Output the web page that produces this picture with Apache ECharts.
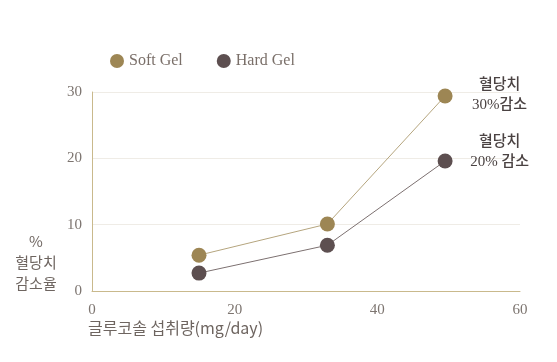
<!DOCTYPE html>
<html><head><meta charset="utf-8">
<script src="https://cdn.jsdelivr.net/npm/echarts@6/dist/echarts.min.js"></script>
<style>html,body{margin:0;padding:0;background:#fff}#c{width:557px;height:362px}</style>
</head><body><div id="c"></div>
<script>
const xValues = [15, 33, 49.5];
const softGel = [5.4, 10.1, 29.4];
const hardGel = [2.7, 6.9, 19.6];
const seriesNames = ['Soft Gel', 'Hard Gel'];
const xTicks = [0, 20, 40, 60];
const yTicks = [0, 10, 20, 30];
const softNote = '혈당치\n30%감소';
const hardNote = '혈당치\n20% 감소';
const yTitle = '%\n혈당치\n감소율';
const xTitle = '글루코솔 섭취량(mg/day)';

const serif = '"Liberation Serif", "Noto Sans CJK KR", serif';
const softColor = '#9d8654';
const hardColor = '#5d4f50';

function mk(vals, note, offY) {
  return vals.map((v, i) => {
    const item = { value: [xValues[i], v] };
    if (i === vals.length - 1) {
      item.label = {
        show: true, formatter: note, position: 'right', distance: 47,
        offset: [0, offY], align: 'center', fontSize: 15, lineHeight: 20,
        color: '#4a4242', fontFamily: serif, fontWeight: 500
      };
    }
    return item;
  });
}

const chart = echarts.init(document.getElementById('c'), null, { renderer: 'canvas' });
chart.setOption({
  animation: false,
  legend: {
    left: 105, top: 48, itemWidth: 14, itemHeight: 14, itemGap: 34, icon: 'circle',
    textStyle: { fontFamily: serif, fontSize: 16, color: '#7a6f69' },
    data: seriesNames
  },
  grid: { left: 92, right: 37, top: 92, bottom: 71, containLabel: false },
  xAxis: {
    type: 'value', min: xTicks[0], max: xTicks[xTicks.length - 1], interval: 20,
    axisLine: { show: true, lineStyle: { color: '#c9b98c', width: 1 } },
    axisTick: { show: false },
    splitLine: { show: false },
    axisLabel: { margin: 12, fontFamily: serif, fontSize: 15, color: '#7d7570' }
  },
  yAxis: {
    type: 'value', min: yTicks[0], max: yTicks[yTicks.length - 1], interval: 10,
    axisLine: { show: true, lineStyle: { color: '#c9b98c', width: 1 } },
    axisTick: { show: false },
    splitLine: { show: true, lineStyle: { color: '#efece6', width: 1 } },
    axisLabel: { margin: 10, fontFamily: serif, fontSize: 15, color: '#7d7570' }
  },
  graphic: [
    { type: 'text', x: 36, y: 231, style: { text: yTitle, font: '15px "Noto Sans CJK KR", serif', fill: '#6e6560', textAlign: 'center', lineHeight: 21 } },
    { type: 'text', left: 88, top: 320, style: { text: xTitle, font: '16px "Noto Sans CJK KR", serif', fill: '#6e6560' } }
  ],
  series: [
    { name: seriesNames[0], type: 'line', data: mk(softGel, softNote, -1), symbol: 'circle', symbolSize: 15,
      itemStyle: { color: softColor }, lineStyle: { color: '#b5a57e', width: 1 }, z: 3 },
    { name: seriesNames[1], type: 'line', data: mk(hardGel, hardNote, -9), symbol: 'circle', symbolSize: 15,
      itemStyle: { color: hardColor }, lineStyle: { color: '#7c7070', width: 1 }, z: 3 }
  ]
});
</script></body></html>
